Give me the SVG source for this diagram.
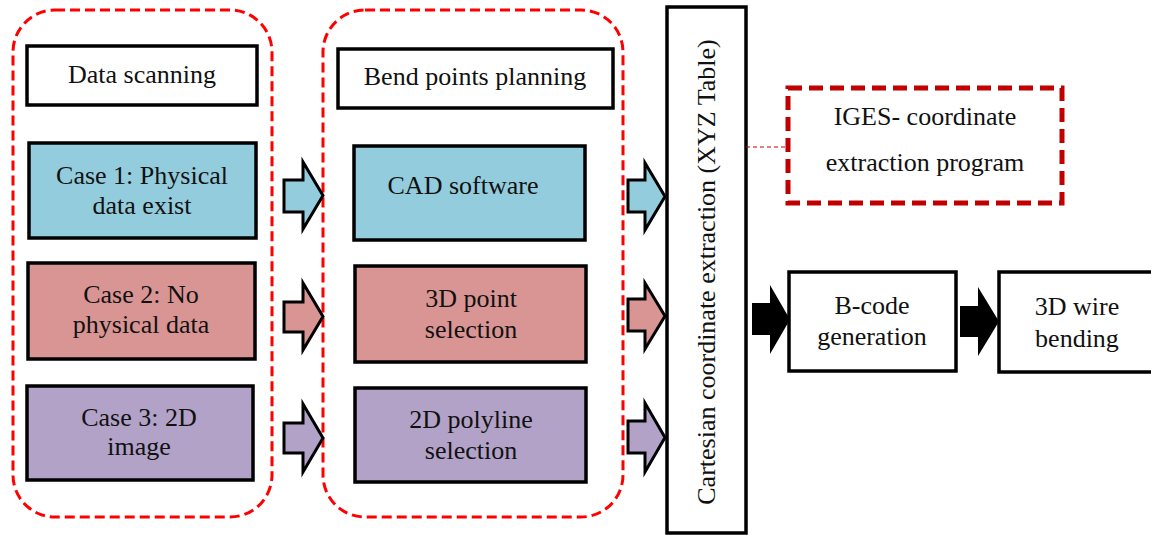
<svg xmlns="http://www.w3.org/2000/svg" width="1151" height="535" viewBox="0 0 1151 535" font-family="'Liberation Serif', 'DejaVu Serif', serif">
<style>
text{font-family:'Liberation Serif','DejaVu Serif',serif;font-size:26px;fill:#111;text-anchor:middle}
.grp{fill:none;stroke:#FF0000;stroke-width:3;stroke-dasharray:10 5}
.box{stroke:#000;stroke-width:3.5}
.w{fill:#fff}.b{fill:#93CDDD}.p{fill:#D99594}.v{fill:#B2A2C7}
.arr{stroke:#000;stroke-width:3;stroke-linejoin:miter}
</style>
<rect width="1151" height="535" fill="#fff"/>
<g id="group-scan"><rect class="grp" x="13" y="10" width="259" height="507" rx="42"/></g>
<g id="group-bend"><rect class="grp" x="323" y="10" width="300" height="507" rx="42"/></g>
<g id="data-scanning"><rect class="box w" x="27" y="46" width="230" height="59"/><text x="142" y="83">Data scanning</text></g>
<g id="case1"><rect class="box b" x="29" y="143" width="227" height="95"/><text x="142" y="184">Case 1: Physical</text><text x="142" y="214">data exist</text></g>
<g id="case2"><rect class="box p" x="28" y="263" width="227" height="96"/><text x="141" y="303">Case 2: No</text><text x="141" y="333">physical data</text></g>
<g id="case3"><rect class="box v" x="27" y="386" width="226" height="94"/><text x="139" y="426">Case 3: 2D</text><text x="139" y="455">image</text></g>
<g id="bend-planning"><rect class="box w" x="338" y="49" width="275" height="59"/><text x="475" y="85">Bend points planning</text></g>
<g id="cad"><rect class="box b" x="354" y="146" width="231" height="94"/><text x="463" y="194">CAD software</text></g>
<g id="point3d"><rect class="box p" x="355" y="266" width="231" height="96"/><text x="471" y="307">3D point</text><text x="471" y="338">selection</text></g>
<g id="polyline2d"><rect class="box v" x="355" y="388" width="231" height="94"/><text x="471" y="428">2D polyline</text><text x="471" y="459">selection</text></g>
<g id="cartesian"><rect class="box w" x="667" y="7" width="79" height="526"/><text transform="translate(715 272) rotate(-90)">Cartesian coordinate extraction (XYZ Table)</text></g>
<g id="iges"><rect x="788" y="88" width="274" height="115" fill="#fff" stroke="#C00000" stroke-width="5" stroke-dasharray="14 7"/><text x="925" y="125">IGES- coordinate</text><text x="925" y="171">extraction program</text></g>
<g id="bcode"><rect class="box w" x="789" y="272" width="167" height="99"/><text x="872" y="314">B-code</text><text x="872" y="345">generation</text></g>
<g id="bending"><rect class="box w" x="999" y="272" width="158" height="100"/><text x="1077" y="315">3D wire</text><text x="1077" y="347">bending</text></g>
<g id="connectors">
<line x1="746" y1="147" x2="788" y2="147" stroke="#C00000" stroke-width="1" stroke-dasharray="4 3"/>
<polygon class="arr b" points="284,180 303,180 303,162 323,195.5 303,229 303,212 284,212"/>
<polygon class="arr p" points="284,302 303,302 303,283 323,316.5 303,350 303,332 284,332"/>
<polygon class="arr v" points="284,423 303,423 303,404 323,438 303,472 303,453 284,453"/>
<polygon class="arr b" points="628,180 645,180 645,163 665,196.5 645,230 645,212 628,212"/>
<polygon class="arr p" points="628,299 645,299 645,283 665,316 645,349 645,331 628,331"/>
<polygon class="arr v" points="628,421 645,421 645,403 665,437.5 645,472 645,453 628,453"/>
<polygon fill="#000" points="752,303 770,303 770,285 790,319.5 770,354 770,335 752,335"/>
<polygon fill="#000" points="960,306 978,306 978,287 999,321.5 978,356 978,337 960,337"/>
</g>
</svg>
